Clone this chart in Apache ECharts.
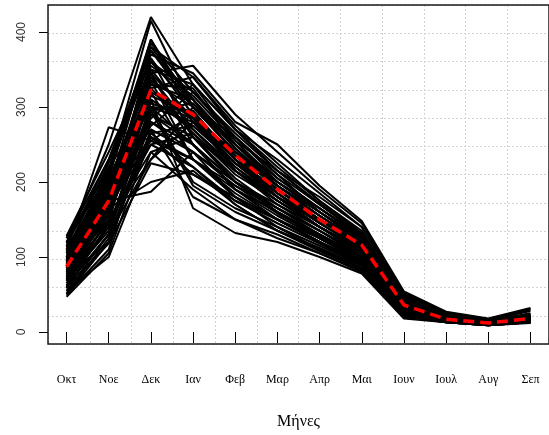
<!DOCTYPE html>
<html>
<head>
<meta charset="utf-8">
<script src="https://cdn.jsdelivr.net/npm/echarts@6/dist/echarts.min.js"></script>
<style>html,body{margin:0;padding:0;background:#fff}#c{width:549px;height:435px}</style>
</head>
<body>
<div id="c"></div>
<script>
const months = ["Οκτ","Νοε","Δεκ","Ιαν","Φεβ","Μαρ","Απρ","Μαι","Ιουν","Ιουλ","Αυγ","Σεπ"];
const yTicks = [0, 100, 200, 300, 400];
const xTitle = "Μήνες";
const meanValues = [87, 175, 323, 290, 236, 190, 150, 116, 36, 17, 12, 18];
const s01 = [118,250,420,330,255,215,180,140,48,25,16,28];
const s02 = [100,215,415,300,240,200,165,128,42,22,15,25];
const s03 = [90,190,385,320,260,210,170,130,45,22,14,22];
const s04 = [125,230,380,340,270,230,185,140,50,24,16,30];
const s05 = [80,170,375,300,240,195,160,125,40,20,13,20];
const s06 = [110,273,255,290,230,190,150,115,35,18,12,17];
const s07 = [60,175,187,240,200,170,140,110,32,17,11,16];
const s08 = [95,200,345,355,290,240,190,145,52,26,17,31];
const s09 = [50,110,290,250,190,150,120,95,28,15,10,14];
const s10 = [47,105,260,230,180,140,110,85,25,14,10,13];
const s11 = [70,150,340,270,215,175,140,105,34,17,12,17];
const s12 = [85,160,330,310,245,195,155,120,38,18,12,19];
const s13 = [128,240,360,300,250,205,165,125,44,20,13,21];
const s14 = [65,140,300,200,165,140,115,90,24,14,10,14];
const s15 = [75,120,270,180,150,125,105,80,20,13,9,13];
const s16 = [55,100,240,260,200,160,125,95,27,15,10,15];
const s17 = [105,185,350,330,270,220,175,135,46,21,14,24];
const s18 = [92,170,320,285,230,185,145,112,35,17,12,18];
const s19 = [88,165,310,275,225,180,140,110,33,16,11,17];
const s20 = [100,195,340,260,215,180,150,115,37,18,12,19];
const s21 = [120,210,370,345,280,250,195,148,54,27,18,32];
const s22 = [78,155,315,290,235,185,145,112,36,16,11,17];
const s23 = [62,130,295,305,245,190,150,113,34,16,11,16];
const s24 = [82,175,325,265,210,175,140,105,31,15,11,16];
const s25 = [97,180,335,300,240,190,150,118,38,18,12,19];
const s26 = [113,200,300,280,225,185,150,120,40,19,13,20];
const s27 = [73,160,280,250,200,165,135,100,30,15,10,15];
const s28 = [58,145,250,220,175,150,120,90,26,14,10,14];
const s29 = [85,150,230,300,260,210,160,120,38,18,12,18];
const s30 = [95,165,200,215,170,135,112,88,22,13,9,13];
const s31 = [68,200,310,165,132,120,100,78,18,13,9,12];
const s32 = [108,225,365,290,230,180,140,108,32,16,11,17];
const s33 = [90,185,355,315,255,200,160,122,40,19,13,20];
const s34 = [77,170,330,325,250,195,155,118,38,17,12,18];
const s35 = [115,190,345,285,240,200,165,128,43,20,13,21];
const s36 = [103,175,310,270,220,180,145,110,33,16,11,17];
const s37 = [52,125,280,240,195,158,128,98,29,15,10,15];
const s38 = [83,155,300,295,230,180,140,105,30,15,10,15];
const s39 = [98,210,380,310,250,200,160,120,40,19,13,20];
const s40 = [72,140,265,275,225,190,155,118,37,18,12,18];
const s41 = [87,180,335,230,190,160,130,100,30,15,11,16];
const s42 = [93,195,350,280,235,195,160,125,42,21,14,23];
const s43 = [60,118,225,210,180,150,125,95,27,15,10,15];
const s44 = [105,205,325,340,275,225,175,132,45,21,14,22];
const s45 = [80,160,290,260,205,165,130,100,30,15,10,15];
const s46 = [110,190,360,320,265,215,172,130,44,20,13,21];
const s47 = [70,135,305,285,215,170,135,102,31,15,10,16];
const s48 = [125,215,390,300,240,195,155,120,40,19,13,20];
const s49 = [65,150,240,190,150,130,105,82,21,13,9,13];
const s50 = [100,180,260,210,175,145,118,90,24,14,10,14];
const s51 = [85,200,270,240,180,150,120,92,26,14,10,14];
const s52 = [120,220,300,250,200,160,130,100,30,16,11,17];
const s53 = [55,130,230,280,220,175,140,108,32,16,11,16];
const s54 = [75,165,285,330,270,215,170,128,44,20,13,21];
const s55 = [110,185,275,320,260,205,165,125,42,20,13,20];
const s56 = [90,175,255,230,195,165,135,105,31,15,11,16];
const s57 = [105,215,365,260,200,160,125,95,27,15,10,15];
const s58 = [80,145,345,250,190,155,125,95,28,14,10,14];
const s59 = [62,130,320,230,185,150,120,92,26,14,10,14];
const s60 = [95,205,390,285,225,180,140,108,33,16,11,17];
const s61 = [115,230,375,310,235,185,148,115,36,17,12,18];
const s62 = [70,160,295,195,160,135,110,85,22,13,9,13];
const s63 = [88,170,250,265,215,175,140,108,32,16,11,16];
const s64 = [50,120,265,220,170,135,108,84,22,13,9,13];
const yearSeries = [s01,s02,s03,s04,s05,s06,s07,s08,s09,s10,s11,s12,s13,s14,s15,s16,s17,s18,s19,s20,s21,s22,s23,s24,s25,s26,s27,s28,s29,s30,s31,s32,s33,s34,s35,s36,s37,s38,s39,s40,s41,s42,s43,s44,s45,s46,s47,s48,s49,s50,s51,s52,s53,s54,s55,s56,s57,s58,s59,s60,s61,s62,s63,s64];

const monthPos = months.map((m, i) => i + 1);
const toPairs = arr => arr.map((v, i) => [monthPos[i], v]);

const series = yearSeries.map(arr => ({
  type: 'line', xAxisIndex: 0, yAxisIndex: 0, data: toPairs(arr),
  showSymbol: false, symbol: 'none', silent: true,
  lineStyle: { color: '#000', width: 2 }, z: 2
}));
series.push({
  type: 'line', xAxisIndex: 0, yAxisIndex: 0, data: toPairs(meanValues),
  showSymbol: false, symbol: 'none', silent: true,
  lineStyle: { color: '#ff0000', width: 3.5, type: [11, 6] }, z: 5
});

const chart = echarts.init(document.getElementById('c'), null, { renderer: 'canvas' });
chart.setOption({
  animation: false,
  backgroundColor: '#fff',
  grid: { left: 48, top: 5, right: -2, bottom: 91, show: true, borderColor: '#1a1a1a', borderWidth: 1.5, backgroundColor: 'transparent', z: 10 },
  xAxis: [
    {
      type: 'value', min: 0.56, max: 12.44, position: 'bottom',
      axisLine: { show: false },
      axisTick: { show: true, length: 11, customValues: monthPos, lineStyle: { color: '#000', width: 1 } },
      axisLabel: { show: true, customValues: monthPos, formatter: v => months[Math.round(v) - 1] || '', margin: 30, fontFamily: 'Liberation Serif', fontSize: 12, color: '#000' },
      splitLine: { show: false },
      name: xTitle, nameLocation: 'middle', nameGap: 70,
      nameTextStyle: { fontFamily: 'Liberation Serif', fontSize: 16, color: '#000' }
    },
    {
      type: 'value', min: 0, max: 12, interval: 1, position: 'top',
      axisLine: { show: false }, axisTick: { show: false }, axisLabel: { show: false },
      splitLine: { show: true, lineStyle: { color: '#d3d3d3', width: 1, type: [2, 2] } }
    }
  ],
  yAxis: [
    {
      type: 'value', min: -16, max: 436, position: 'left',
      axisLine: { show: false },
      axisTick: { show: true, length: 9, customValues: yTicks, lineStyle: { color: '#000', width: 1 } },
      axisLabel: { show: true, customValues: yTicks, rotate: 90, margin: 20, fontFamily: 'Liberation Sans', fontSize: 12, color: '#333' },
      splitLine: { show: false }
    },
    {
      type: 'value', min: 0, max: 12, interval: 1, position: 'right',
      axisLine: { show: false }, axisTick: { show: false }, axisLabel: { show: false },
      splitLine: { show: true, lineStyle: { color: '#d3d3d3', width: 1, type: [2, 2] } }
    }
  ],
  series: series
});
</script>
</body>
</html>
